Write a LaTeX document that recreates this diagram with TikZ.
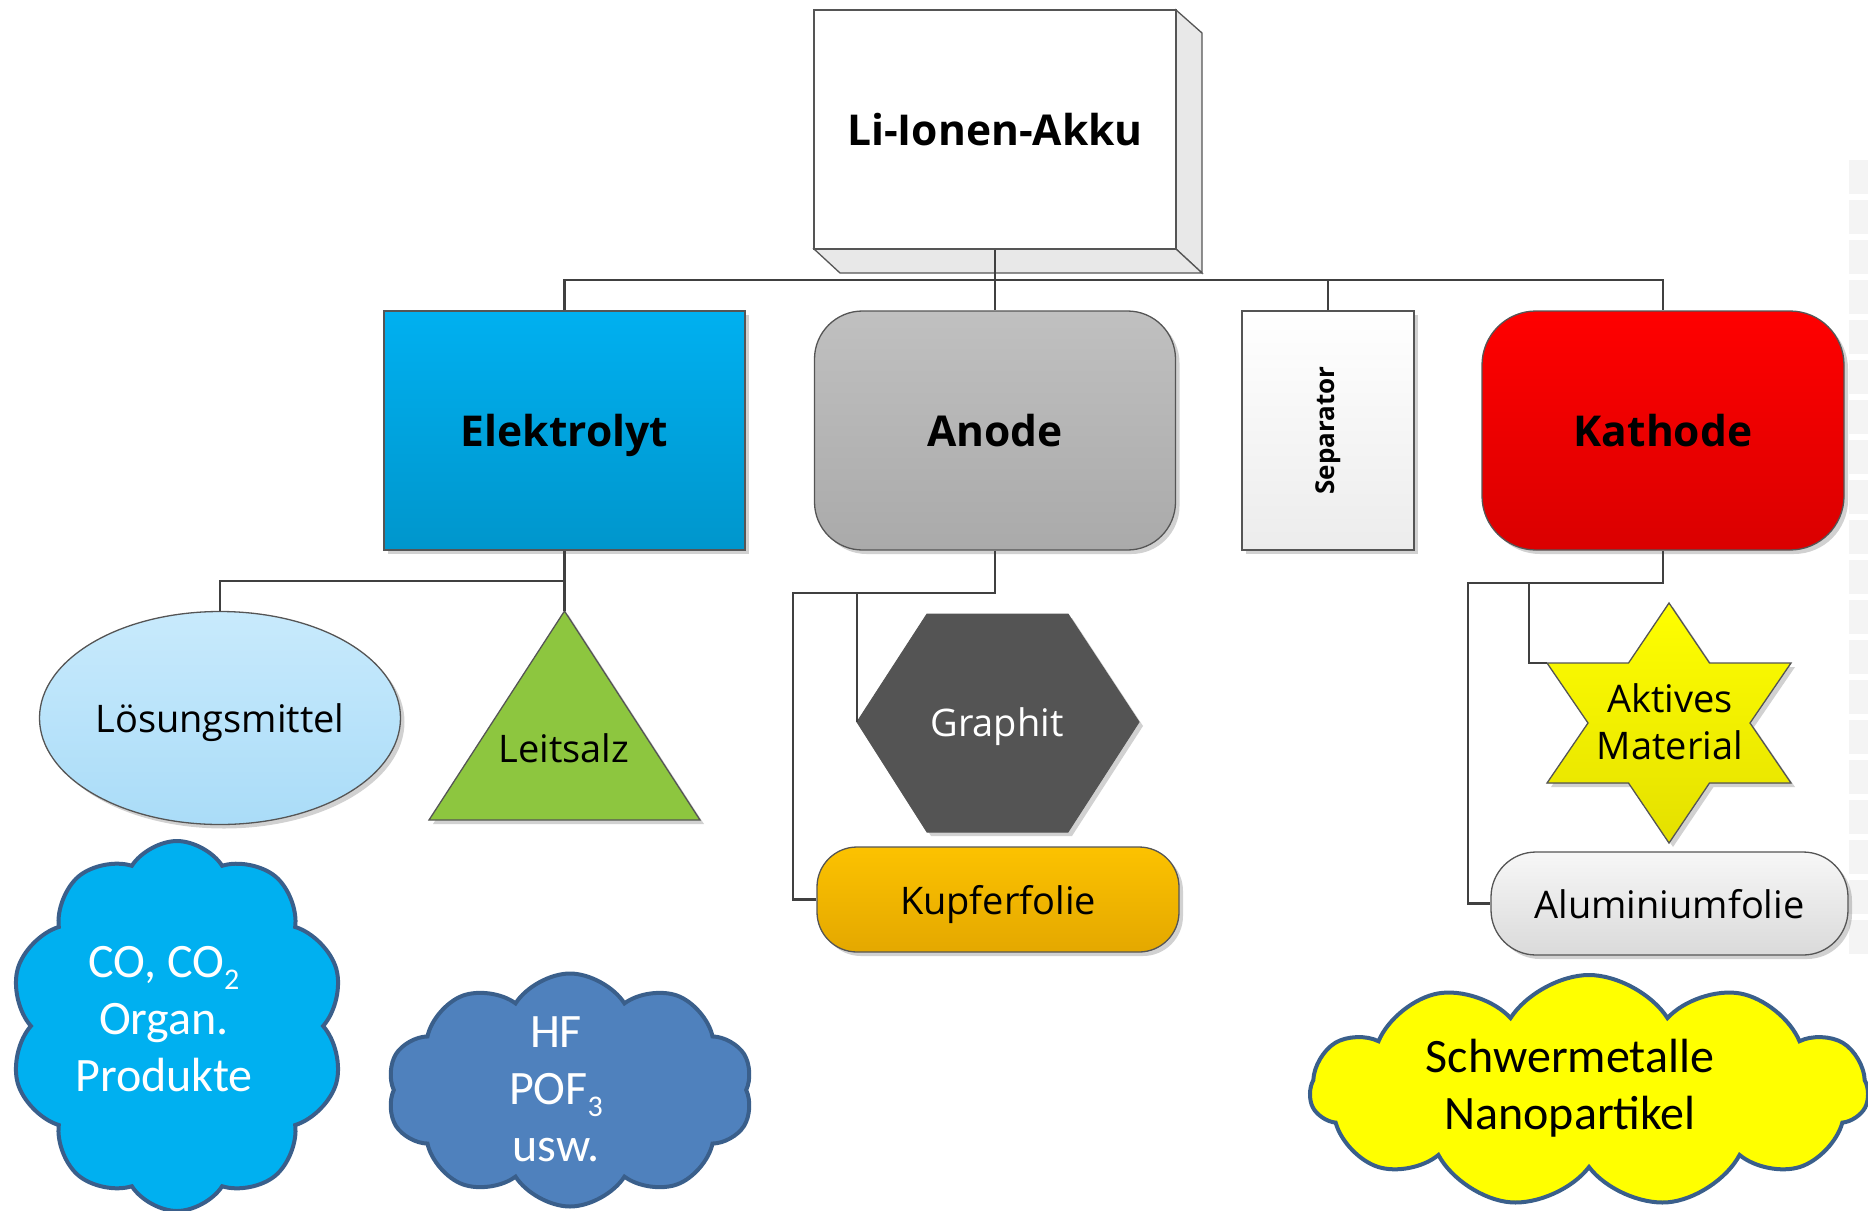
\documentclass[tikz,border=0pt]{standalone}
\usepackage{fontspec}
\setmainfont{Open Sans}
\newfontfamily\calib{Carlito}
\usetikzlibrary{shapes.geometric,shapes.symbols,shadows}
\definecolor{linegray}{HTML}{404040}
\definecolor{bordergray}{HTML}{555555}
\definecolor{sideface}{HTML}{E8E8E8}
\definecolor{cloudedge}{HTML}{3A5F8B}
\newcommand{\lowsub}[1]{\raisebox{-0.25em}{\fontsize{30}{30}\selectfont #1}}
\begin{document}
\begin{tikzpicture}[x=1pt,y=-1pt,
  conn/.style={draw=linegray, line width=2.6pt},
  box/.style={draw=bordergray, line width=1.3pt, inner sep=0pt, align=center},
  shad/.style={drop shadow={shadow xshift=4pt, shadow yshift=-4pt, opacity=0.18, fill=black}},
  lvlone/.style={font=\fontsize{42.5}{50}\selectfont\bfseries},
  leaf/.style={font=\fontsize{38}{46}\selectfont, text depth=0pt},
  cloudtxt/.style={font=\calib\fontsize{48}{57}\selectfont, align=center},
  cloudshape/.style={cloud, cloud puff arc=115, cloud ignores aspect, draw=cloudedge, line width=4pt, inner sep=0pt},
]
\path[use as bounding box] (0,0) rectangle (1868,1210);

% faint watermark strip at the right edge
\foreach \yy in {160,200,...,940}
  \fill[gray!9] (1849,\yy) rectangle (1868,\yy+34);

% top 3D box
\filldraw[fill=sideface, draw=bordergray, line width=1.3pt] (1176,10) -- (1202,33) -- (1202,273) -- (1176,249) -- cycle;
\filldraw[fill=sideface, draw=bordergray, line width=1.3pt] (814,249) -- (840,273) -- (1202,273) -- (1176,249) -- cycle;
\node[box, fill=white, minimum width=362pt, minimum height=239pt, lvlone] (akku) at (995,129.5) {Li-Ionen-Akku};

% level one
\node[box, shad, top color={rgb,255:red,0;green,176;blue,240}, bottom color={rgb,255:red,0;green,150;blue,204}, minimum width=361pt, minimum height=239pt, lvlone, text depth=0pt] (elek) at (564.5,430.5) {Elektrolyt};
\node[box, shad, rounded corners=48pt, top color={rgb,255:red,192;green,192;blue,192}, bottom color={rgb,255:red,170;green,170;blue,170}, minimum width=361pt, minimum height=239pt, lvlone] (anode) at (995,430.5) {Anode};
\node[box, shad, top color=white, bottom color={rgb,255:red,236;green,236;blue,236}, minimum width=172pt, minimum height=239pt] (sep) at (1328,430.5) {};
\node[rotate=90, font=\fontsize{26}{30}\selectfont\bfseries] (septext) at (sep.center) {Separator};
\node[box, shad, rounded corners=54pt, top color={rgb,255:red,255;green,0;blue,0}, bottom color={rgb,255:red,218;green,0;blue,0}, minimum width=362pt, minimum height=239pt, lvlone] (kath) at (1663,430.5) {Kathode};

% Elektrolyt children
\node[ellipse, draw=bordergray, line width=1.3pt, shad, top color={rgb,255:red,200;green,234;blue,252}, bottom color={rgb,255:red,170;green,220;blue,248}, minimum width=361pt, minimum height=213pt, inner sep=0pt, leaf] (loes) at (220,718) {Lösungsmittel};
\coordinate (leitapex) at (564.5,611);
\coordinate (leitbl) at (429,820);
\coordinate (leitbr) at (700,820);
\filldraw[fill={rgb,255:red,141;green,198;blue,63}, draw=bordergray, line width=1.3pt, shad] (leitapex) -- (leitbr) -- (leitbl) -- cycle;
\node[leaf] (leit) at (564,748) {Leitsalz};

% Anode children
\coordinate (graphleft) at (857,722);
\filldraw[fill={rgb,255:red,84;green,84;blue,84}, draw={rgb,255:red,84;green,84;blue,84}, line width=1pt, shad] (graphleft) -- (927,614) -- (1068,614) -- (1139,722) -- (1068,832) -- (927,832) -- cycle;
\node[leaf, text=white] (graphit) at (997,722) {Graphit};
\node[box, shad, rounded corners=40pt, top color={rgb,255:red,252;green,194;blue,0}, bottom color={rgb,255:red,228;green,168;blue,0}, minimum width=362pt, minimum height=105pt, leaf] (kupf) at (998,899.5) {Kupferfolie};

% Kathode children
\coordinate (starul) at (1547,663);
\filldraw[top color={rgb,255:red,255;green,255;blue,0}, bottom color={rgb,255:red,228;green,224;blue,0}, draw=bordergray, line width=1.3pt, shad]
  (1669,603) -- (1709.5,663) -- (1791,663) -- (1750,723) -- (1791,783) -- (1709.5,783) -- (1669,843)
  -- (1628.5,783) -- (1547,783) -- (1588,723) -- (starul) -- (1628.5,663) -- cycle;
\node[align=center, font=\fontsize{38}{47}\selectfont] (aktiv) at (1670,722) {Aktives\\Material};
\node[box, shad, rounded corners=45pt, top color={rgb,255:red,247;green,247;blue,247}, bottom color={rgb,255:red,218;green,218;blue,218}, minimum width=357pt, minimum height=103pt, leaf] (alu) at (1669.5,903.5) {Aluminiumfolie};

% connectors
\coordinate (bus) at (0,280);
\draw[conn] (akku.south) -- (anode.north);
\draw[conn] (elek.north) -- (elek.north |- bus) -- (kath.north |- bus) -- (kath.north);
\draw[conn] (sep.north |- bus) -- (sep.north);

\coordinate (eb) at (0,581);
\draw[conn] (elek.south) -- (elek.south |- eb) -- (loes.north |- eb) -- (loes.north);
\draw[conn] (elek.south |- eb) -- (leitapex);

\coordinate (ab) at (0,593);
\coordinate (ax) at (793,0);
\draw[conn] (anode.south) -- (anode.south |- ab) -- (ax |- ab) -- (ax |- kupf.west) -- (kupf.west);
\draw[conn] (graphleft |- ab) -- (graphleft);

\coordinate (kb) at (0,583);
\coordinate (kx) at (1468,0);
\coordinate (kbr) at (1529,583);
\draw[conn] (kath.south) -- (kath.south |- kb) -- (kx |- kb) -- (kx |- alu.west) -- (alu.west);
\draw[conn] (kbr) |- (starul);

% clouds
\node[cloudshape, cloud puffs=10, fill={rgb,255:red,0;green,176;blue,240}, minimum width=335pt, minimum height=370pt] (c1) at (177,1026) {};
\node[cloudtxt, text=white] (c1t) at (164,1019) {CO, CO\lowsub{2}\\Organ.\\Produkte};
\node[cloudshape, cloud puffs=10, fill={rgb,255:red,79;green,129;blue,189}, minimum width=366pt, minimum height=233pt] (c2) at (570,1090) {};
\node[cloudtxt, text=white] (c2t) at (556,1089) {HF\\POF\lowsub{3}\\usw.};
\node[cloudshape, cloud puffs=11, fill={rgb,255:red,255;green,255;blue,0}, minimum width=558pt, minimum height=232pt] (c3) at (1589,1091) {};
\node[cloudtxt, text=black] (c3t) at (1570,1088) {Schwermetalle\\Nanopartikel};
\end{tikzpicture}
\end{document}
